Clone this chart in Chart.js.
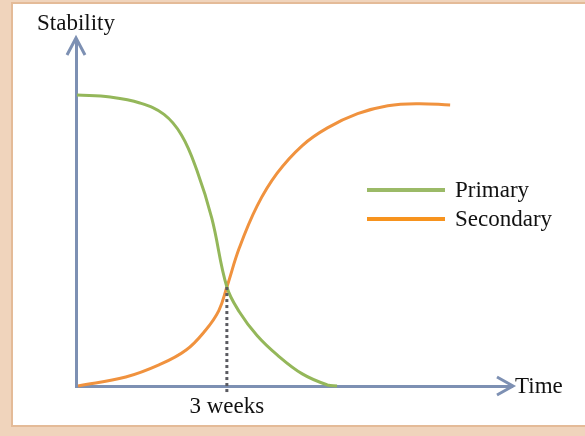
<!DOCTYPE html>
<html>
<head>
<meta charset="utf-8">
<script src="https://cdn.jsdelivr.net/npm/chart.js@4"></script>
<style>
html,body{margin:0;padding:0;width:585px;height:436px;overflow:hidden;background:#f0d4bc;}
#panel{position:absolute;left:11px;top:2px;width:600px;height:421px;background:#fff;border:2px solid #e4bb98;}
#wrap{position:absolute;left:0;top:0;width:585px;height:436px;}
</style>
</head>
<body>
<div id="panel"></div>
<div id="wrap"><canvas id="c" width="585" height="436"></canvas></div>
<script>
// Data (x = weeks, y = stability)
const primaryWeeks     = [0.02, 0.68, 1.27, 1.75, 2.10, 2.40, 2.70, 3.00, 3.25, 3.60, 4.00, 4.50, 5.00, 5.19];
const primaryStability = [84.1, 83.5, 81.8, 78.5, 72.5, 62.5, 48.5, 28.6, 21.4, 14.6, 9.0, 3.5, 0.3, 0.0];
const secondaryWeeks     = [0.04, 0.99, 1.65, 2.19, 2.58, 2.84, 3.00, 3.25, 3.60, 4.00, 4.50, 5.00, 5.60, 6.20, 6.80, 7.44];
const secondaryStability = [0.0, 2.6, 6.1, 10.4, 16.2, 21.8, 28.6, 40.0, 52.0, 61.5, 69.5, 74.6, 78.7, 81.0, 81.6, 81.2];
const seriesLabels = ['Primary', 'Secondary'];
const crossWeek = 3;
const crossStability = 28.6;
const crossLabel = '3 weeks';
const yAxisLabel = 'Stability';
const xAxisLabel = 'Time';

const FONT = '23px "Liberation Serif", "DejaVu Serif", serif';
const TEXT = '#111111';
const AXIS = '#7d90b3';
const GREEN = '#94b75a';
const ORANGE = '#f0923e';

const toPts = (xs, ys) => xs.map((x, i) => ({x, y: ys[i]}));

const decor = {
  id: 'decor',
  afterDatasetsDraw(chart) {
    const {ctx, scales: {x, y}} = chart;
    const x0 = x.getPixelForValue(0), y0 = y.getPixelForValue(0);
    const xEnd = x.getPixelForValue(x.max), yTop = y.getPixelForValue(y.max);
    ctx.save();
    const cx = x.getPixelForValue(crossWeek), cy = y.getPixelForValue(crossStability);
    ctx.strokeStyle = '#5a5a60';
    ctx.lineWidth = 3;
    ctx.setLineDash([3, 3]);
    ctx.beginPath();
    ctx.moveTo(cx, cy);
    ctx.lineTo(cx, y0 + 7);
    ctx.stroke();
    ctx.setLineDash([]);
    ctx.strokeStyle = AXIS;
    ctx.lineWidth = 3;
    ctx.lineJoin = 'miter';
    ctx.beginPath();
    ctx.moveTo(x0 - 9, yTop + 15);
    ctx.lineTo(x0, yTop - 2);
    ctx.lineTo(x0 + 9, yTop + 15);
    ctx.stroke();
    ctx.beginPath();
    ctx.moveTo(xEnd - 15, y0 - 9);
    ctx.lineTo(xEnd + 1, y0);
    ctx.lineTo(xEnd - 15, y0 + 9);
    ctx.stroke();
    ctx.fillStyle = TEXT;
    ctx.font = FONT;
    ctx.textBaseline = 'alphabetic';
    ctx.textAlign = 'left';
    ctx.fillText(yAxisLabel, 37, 30);
    ctx.fillText(xAxisLabel, xEnd + 3, y0 + 7);
    ctx.textAlign = 'center';
    ctx.fillText(crossLabel, cx, y0 + 27);
    const items = chart.data.datasets;
    const lx = 367, ly = 190, gap = 29;
    items.forEach((ds, i) => {
      const yy = ly + i * gap;
      ctx.strokeStyle = ds.legendColor;
      ctx.lineWidth = 4;
      ctx.beginPath();
      ctx.moveTo(lx, yy);
      ctx.lineTo(lx + 78, yy);
      ctx.stroke();
      ctx.fillStyle = TEXT;
      ctx.textAlign = 'left';
      ctx.fillText(ds.label, lx + 88, yy + 7);
    });
    ctx.restore();
  }
};

new Chart(document.getElementById('c'), {
  type: 'line',
  data: {
    datasets: [
      {label: seriesLabels[0], data: toPts(primaryWeeks, primaryStability), borderColor: GREEN, legendColor: '#9bba67', borderWidth: 3, pointRadius: 0, tension: 0.4, clip: false},
      {label: seriesLabels[1], data: toPts(secondaryWeeks, secondaryStability), borderColor: ORANGE, legendColor: '#f7931e', borderWidth: 3, pointRadius: 0, tension: 0.4, clip: false}
    ]
  },
  options: {
    responsive: false,
    animation: false,
    events: [],
    layout: {padding: {left: 76, right: 73, top: 40, bottom: 50}},
    plugins: {legend: {display: false}, tooltip: {enabled: false}},
    scales: {
      x: {type: 'linear', min: 0, max: 8.67,
          grid: {display: false, drawTicks: false},
          ticks: {display: false},
          border: {display: true, color: AXIS, width: 3}},
      y: {type: 'linear', min: 0, max: 100,
          grid: {display: false, drawTicks: false},
          ticks: {display: false},
          border: {display: true, color: AXIS, width: 3}}
    }
  },
  plugins: [decor]
});
</script>
</body>
</html>
